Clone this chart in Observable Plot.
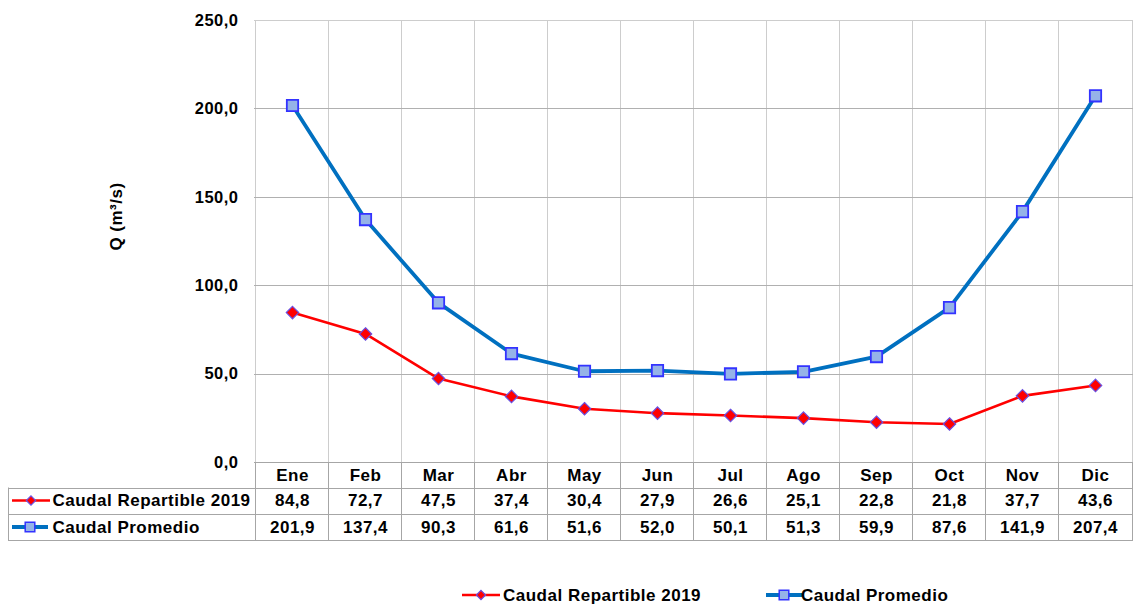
<!DOCTYPE html>
<html><head><meta charset="utf-8">
<script src="https://cdn.jsdelivr.net/npm/d3@7"></script>
<script src="https://cdn.jsdelivr.net/npm/@observablehq/plot@0.6"></script>
<style>
body{margin:0;background:#fff;}
#chart svg{font-family:"Liberation Sans",Arial,sans-serif;display:block;}
#chart svg text{letter-spacing:0.5px;}
</style>
</head><body><div id="chart"></div>
<script>
const months = ["Ene","Feb","Mar","Abr","May","Jun","Jul","Ago","Sep","Oct","Nov","Dic"];
const repartible = [84.8, 72.7, 47.5, 37.4, 30.4, 27.9, 26.6, 25.1, 22.8, 21.8, 37.7, 43.6];
const promedio = [201.9, 137.4, 90.3, 61.6, 51.6, 52.0, 50.1, 51.3, 59.9, 87.6, 141.9, 207.4];
const seriesNames = ["Caudal Repartible 2019", "Caudal Promedio"];
const yTicks = [0, 50, 100, 150, 200, 250];
const yLabel = "Q (m³/s)";

const W = 1142, H = 604, mL = 254, mR = 9, mT = 20, mB = 142;
const red = "#ff0000", blue = "#0070c0", sqFill = "#95b3e8", sqStroke = "#3333ff", dmStroke = "#6a50e0";
const fmt = v => d3.format(".1f")(v).replace(".", ",");

const rep = months.map((m, i) => ({month: m, series: seriesNames[0], value: repartible[i]}));
const pro = months.map((m, i) => ({month: m, series: seriesNames[1], value: promedio[i]}));

const r1 = 25.5, r2 = 52, r3 = 78;        // table row bottoms below the frame
const yRow1 = 13, yRow2 = 38.5, yRow3 = 65;
const font = {fontSize: 17, fontWeight: "bold", fill: "#000", lineAnchor: "middle"};

const plot = Plot.plot({
  width: W, height: H,
  marginLeft: mL, marginRight: mR, marginTop: mT, marginBottom: mB,
  x: {type: "point", domain: months, padding: 0.5, axis: null},
  y: {domain: [0, 250], ticks: yTicks, axis: null},
  marks: [
    Plot.axisY(yTicks, {tickSize: 0, tickPadding: 16, tickFormat: fmt, fontSize: 16.5, fontWeight: "bold", label: null}),
    Plot.text([yLabel], {frameAnchor: "left", dx: -138, dy: -25, rotate: -90, fontSize: 17, fontWeight: "bold", textAnchor: "middle", lineAnchor: "middle"}),
    Plot.line(pro, {x: "month", y: "value", stroke: blue, strokeWidth: 3.8}),
    Plot.line(rep, {x: "month", y: "value", stroke: red, strokeWidth: 2.6}),
    Plot.dot(pro, {x: "month", y: "value", symbol: "square", r: 6.4, fill: sqFill, stroke: sqStroke, strokeWidth: 1.8}),
    Plot.dot(rep, {x: "month", y: "value", symbol: "diamond2", r: 5.6, fill: red, stroke: dmStroke, strokeWidth: 1.2}),
    Plot.text(months, {x: d => d, frameAnchor: "bottom", dy: yRow1, ...font}),
    Plot.text(rep, {x: "month", text: d => fmt(d.value), frameAnchor: "bottom", dy: yRow2, ...font}),
    Plot.text(pro, {x: "month", text: d => fmt(d.value), frameAnchor: "bottom", dy: yRow3, ...font}),
    Plot.text([seriesNames[0]], {frameAnchor: "bottom-left", dx: -202, dy: yRow2, textAnchor: "start", ...font}),
    Plot.text([seriesNames[1]], {frameAnchor: "bottom-left", dx: -202, dy: yRow3, textAnchor: "start", ...font})
  ]
});

const svg = d3.select(plot);
const xs = plot.scale("x"), ys = plot.scale("y");
const step = (W - mL - mR) / months.length;
const x0 = mL, x1 = W - mR, yTop = mT, yBot = H - mB;
const tLeft = 8;
const px = v => Math.round(v) + 0.5;

const g = svg.insert("g", ":first-child").attr("fill", "none");
const bounds = months.map(m => xs.apply(m) - step / 2).concat([xs.apply(months[months.length - 1]) + step / 2]);
bounds.forEach(bx => {
  g.append("line").attr("x1", px(bx)).attr("x2", px(bx)).attr("y1", yTop).attr("y2", yBot)
    .attr("stroke", "#cdcdcd");
  g.append("line").attr("x1", px(bx)).attr("x2", px(bx)).attr("y1", yBot).attr("y2", yBot + r3)
    .attr("stroke", "#a6a6a6");
});
yTicks.forEach(t => {
  if (t === 0) return;
  g.append("line").attr("x1", x0).attr("x2", x1).attr("y1", px(ys.apply(t))).attr("y2", px(ys.apply(t)))
    .attr("stroke", t === 250 ? "#cdcdcd" : "#b0b0b0");
});
g.append("line").attr("x1", x0).attr("x2", x1).attr("y1", px(yBot)).attr("y2", px(yBot)).attr("stroke", "#a6a6a6");
[r1, r2, r3].forEach(d => g.append("line").attr("x1", tLeft).attr("x2", x1).attr("y1", px(yBot + d)).attr("y2", px(yBot + d)).attr("stroke", "#a6a6a6"));
g.append("line").attr("x1", px(tLeft)).attr("x2", px(tLeft)).attr("y1", yBot + r1).attr("y2", yBot + r3).attr("stroke", "#a6a6a6");

function key(sel, cx, cy, which) {
  const k = sel.append("g");
  if (which === 0) {
    k.append("line").attr("x1", cx - 19).attr("x2", cx + 19).attr("y1", cy).attr("y2", cy).attr("stroke", red).attr("stroke-width", 2.6);
    k.append("path").attr("transform", `translate(${cx},${cy})`).attr("d", d3.symbol(d3.symbolDiamond2, Math.PI * 4.2 * 4.2)())
      .attr("fill", red).attr("stroke", dmStroke).attr("stroke-width", 1.2);
  } else {
    k.append("line").attr("x1", cx - 18).attr("x2", cx + 18).attr("y1", cy).attr("y2", cy).attr("stroke", blue).attr("stroke-width", 3.8);
    k.append("path").attr("transform", `translate(${cx},${cy})`).attr("d", d3.symbol(d3.symbolSquare, Math.PI * 5.4 * 5.4)())
      .attr("fill", sqFill).attr("stroke", sqStroke).attr("stroke-width", 1.5);
  }
}
key(svg, 31, yBot + yRow2, 0);
key(svg, 30, yBot + yRow3, 1);

const lg = svg.append("g").attr("text-anchor", "start").attr("font-size", 17).attr("font-weight", "bold");
key(lg, 481, 595, 0);
key(lg, 784, 595, 1);
lg.append("text").attr("x", 503).attr("y", 595).attr("dy", "0.35em").text(seriesNames[0]);
lg.append("text").attr("x", 801).attr("y", 595).attr("dy", "0.35em").text(seriesNames[1]);

document.getElementById("chart").append(plot);
</script>
</body></html>
